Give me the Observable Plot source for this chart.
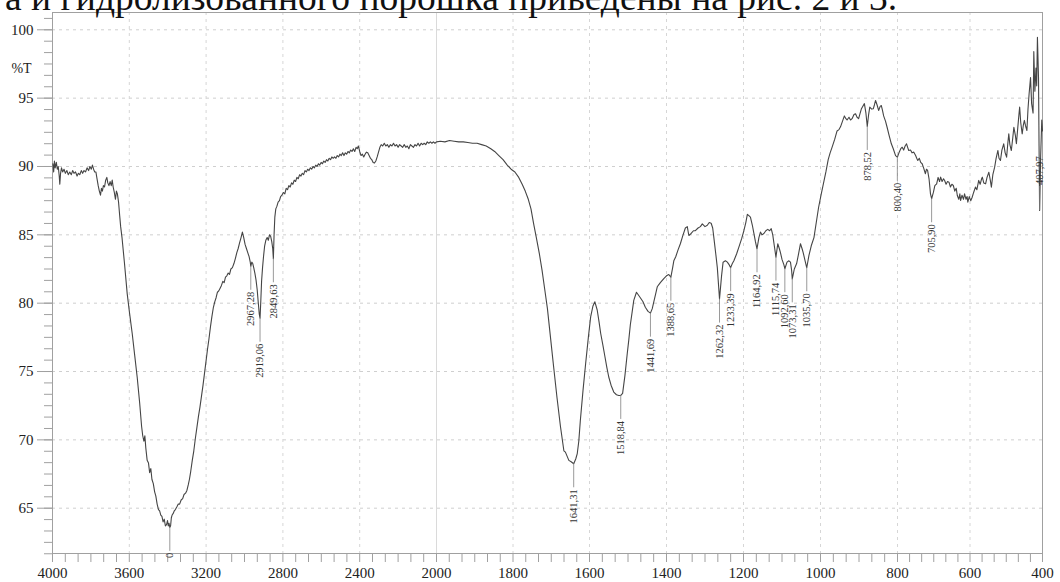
<!DOCTYPE html>
<html><head><meta charset="utf-8">
<script src="https://cdn.jsdelivr.net/npm/d3@7"></script>
<script src="https://cdn.jsdelivr.net/npm/@observablehq/plot@0.6"></script>
<style>
html,body{margin:0;padding:0;background:#fff;}
#wrap{position:relative;width:1060px;height:582px;overflow:hidden;background:#fff;}
#head{position:absolute;left:0;top:0;pointer-events:none;}
</style></head><body>
<div id="wrap"><div id="chart"></div>
<svg id="head" width="1060" height="30"><text x="5" y="10" font-family="'Liberation Serif', 'Times New Roman', serif" font-size="37.5" fill="#111">а и гидролизованного порошка приведены на рис. 2 и 3.</text></svg>
</div>
<script>
// ---- data ----
const xTickLabels = [4000, 3600, 3200, 2800, 2400, 2000, 1800, 1600, 1400, 1200, 1000, 800, 600, 400];
const yTickLabels = [100, 95, 90, 85, 80, 75, 70, 65];
const yAxisTitle = "%T";

const peakWn = [3389, 2967.28, 2919.06, 2849.63, 1641.31, 1518.84, 1441.69, 1388.65, 1262.32, 1233.39, 1164.92, 1115.74, 1092.60, 1073.31, 1035.70, 878.52, 800.40, 705.90, 407.97];
const peakT = [63.6, 82.7, 78.9, 83.25, 68.25, 73.25, 79.27, 81.9, 80.3, 82.6, 83.98, 83.37, 82.52, 81.78, 82.59, 92.93, 90.68, 87.64, 86.78];
const peakLabels = ["0", "2967,28", "2919,06", "2849,63", "1641,31", "1518,84", "1441,69", "1388,65", "1262,32", "1233,39", "1164,92", "1115,74", "1092,60", "1073,31", "1035,70", "878,52", "800,40", "705,90", "407,97"];
const labelsAbove = ["407,97"];

// [wavenumber cm-1, %T]
const spectrumPoints = [
[3998,90.2],[3994,89.6],[3990,90.4],[3986,89.9],[3980,90.3],[3975,89.8],[3970,90.0],[3965,89.3],[3962,88.7],[3958,89.5],[3953,89.9],[3947,89.6],[3940,89.8],[3933,89.5],[3925,89.7],[3918,89.4],[3910,89.6],[3902,89.4],[3895,89.7],[3888,89.5],[3880,89.6],[3872,89.3],[3865,89.5],[3858,89.4],[3850,89.7],[3843,89.5],[3836,89.7],[3828,89.6],[3820,89.9],[3812,89.7],[3805,90.0],[3798,89.8],[3792,90.1],[3786,89.8],[3780,89.6],[3774,89.6],[3768,89.1],[3762,88.6],[3756,88.2],[3750,87.9],[3745,88.4],[3740,88.2],[3735,88.6],[3729,88.5],[3723,89.0],[3717,89.2],[3712,88.8],[3706,88.6],[3700,88.9],[3694,88.6],[3689,89.0],[3684,88.5],[3678,88.1],[3672,87.6],[3667,88.2],[3662,88.0],[3656,87.4],[3650,86.4],[3645,85.6],[3638,84.8],
[3625,82.9],[3611,80.7],[3598,79.2],[3585,77.8],[3572,76.2],[3559,74.6],[3546,72.7],[3536,71.0],[3530,70.3],[3524,69.9],[3519,70.3],[3514,69.4],[3507,68.5],[3500,68.3],[3494,67.6],[3488,67.9],[3482,67.1],[3475,66.8],[3468,66.2],[3462,65.9],[3455,65.3],[3448,64.9],[3442,64.8],[3436,64.5],[3430,64.4],[3424,64.0],[3418,64.2],[3412,63.7],[3406,63.8],[3401,64.1],[3397,63.7],[3393,63.9],[3389,63.6],[3385,63.7],[3381,64.3],[3377,64.5],[3372,64.6],[3366,64.8],[3360,64.9],[3352,65.1],[3345,65.3],[3338,65.3],[3330,65.6],[3322,65.7],[3315,66.0],[3307,66.1],[3300,66.3],[3293,66.7],[3287,67.1],[3280,67.7],[3272,68.5],[3264,69.2],[3256,70.1],[3248,70.9],[3240,71.7],[3232,72.4],[3224,73.2],[3216,74.0],[3208,74.9],[3200,75.8],[3192,76.7],[3185,77.4],[3177,78.3],[3170,79.0],[3162,79.7],[3155,80.1],[3148,80.4],[3141,80.8],[3134,80.9],[3127,81.1],[3120,81.3],[3113,81.6],[3106,81.5],[3099,81.9],[3092,82.0],[3085,82.2],[3078,82.1],[3071,82.5],[3063,82.6],[3055,82.9],[3047,83.3],[3040,83.7],[3033,84.0],[3026,84.4],[3018,84.8],[3011,85.2],[3004,84.8],[2997,84.3],[2990,84.0],[2983,83.7],[2976,83.4],[2970,83.0],[2967.28,82.7],[2962,83.0],[2957,82.9],[2952,82.6],[2946,82.2],[2940,81.7],[2934,81.0],[2928,80.0],[2923,79.2],[2919.06,78.9],[2915,80.2],[2911,81.6],[2906,82.6],[2901,83.4],[2895,84.2],[2889,84.6],[2882,84.8],[2876,84.6],[2870,85.0],[2864,84.9],[2858,84.5],[2853,84.0],[2849.63,83.25],[2846,85.0],[2842,86.3],[2837,86.9],[2831,87.1],[2825,87.4],[2818,87.5],[2812,87.8],[2805,87.9],
[2798,88.1],[2790,88.0],[2783,88.4],[2776,88.3],[2769,88.6],[2762,88.5],[2755,88.8],[2748,88.7],[2741,89.0],[2734,88.9],[2727,89.2],[2720,89.1],[2713,89.4],[2706,89.3],[2699,89.5],[2692,89.4],[2685,89.7],[2678,89.6],[2671,89.8],[2664,89.7],[2657,89.9],[2650,89.8],[2643,90.0],[2636,89.9],[2629,90.1],[2622,90.0],[2615,90.2],[2608,90.1],[2601,90.3],[2594,90.2],[2587,90.4],[2580,90.3],[2573,90.5],[2566,90.4],[2559,90.6],[2552,90.5],[2545,90.7],[2538,90.6],[2531,90.7],[2524,90.6],[2517,90.8],[2510,90.7],[2503,90.9],[2496,90.8],[2489,91.0],[2482,90.8],[2475,91.0],[2468,90.9],[2461,91.1],[2454,91.0],[2447,91.2],[2440,91.1],[2433,91.3],[2426,91.1],[2419,91.4],[2413,91.3],[2407,91.5],[2400,91.1],[2393,90.8],[2386,90.9],[2379,90.7],[2372,90.9],[2365,91.05],[2358,91.0],[2351,90.8],[2344,90.6],[2337,90.5],[2330,90.3],[2323,90.25],[2316,90.4],[2309,90.7],[2302,91.05],[2295,91.4],[2288,91.6],[2280,91.5],[2272,91.7],[2264,91.5],[2256,91.6],[2248,91.4],[2240,91.6],[2232,91.5],[2224,91.7],[2216,91.5],[2208,91.6],[2200,91.4],[2192,91.6],[2184,91.5],[2176,91.4],[2168,91.6],[2160,91.4],[2152,91.5],[2144,91.3],[2136,91.6],[2128,91.5],[2120,91.4],[2112,91.6],[2104,91.5],[2096,91.7],[2088,91.5],[2080,91.7],[2072,91.6],[2064,91.7],[2056,91.6],[2048,91.8],[2040,91.7],[2032,91.8],[2024,91.7],[2016,91.8],[2008,91.7],[2000,91.8],
[1990,91.85],[1978,91.8],[1966,91.9],[1954,91.85],[1942,91.8],[1930,91.8],[1918,91.75],[1906,91.7],[1894,91.7],[1882,91.6],[1870,91.5],[1858,91.3],[1848,91.1],[1837,90.8],[1826,90.5],[1815,90.1],[1805,89.8],[1795,89.6],[1785,89.2],[1776,88.7],[1768,88.2],[1760,87.6],[1753,86.9],[1746,85.8],[1739,84.8],[1731,83.6],[1724,82.4],[1717,81.0],[1710,79.6],[1702,77.5],[1694,75.4],[1685,73.1],[1676,71.0],[1667,69.2],[1663,69.1],[1654,68.5],[1648,68.4],[1641.31,68.25],[1636,68.6],[1632,69.0],[1628,69.9],[1624,71.4],[1617,73.6],[1610,75.6],[1603,77.5],[1597,79.0],[1591,79.8],[1586,80.1],
[1580,79.5],[1575,78.6],[1571,77.8],[1565,76.9],[1560,76.1],[1555,75.3],[1550,74.6],[1544,74.0],[1537,73.5],[1530,73.3],[1524,73.25],[1518.84,73.25],[1514,73.4],[1508,74.7],[1502,76.3],[1498,77.3],[1494,78.4],[1489,79.4],[1485,80.2],[1478,80.8],[1473,80.6],[1468,80.4],[1461,80.1],[1455,79.7],[1448,79.4],[1441.69,79.27],[1437,79.6],[1433,80.1],[1428,80.7],[1424,81.2],[1416,81.5],[1407,81.8],[1400,82.0],[1394,82.1],[1388.65,81.9],[1384,82.6],[1381,83.1],[1376,83.4],[1370,83.9],[1364,84.35],[1358,84.9],[1351,85.5],[1346,85.6],[1342,84.95],[1336,85.1],[1330,85.3],[1325,85.3],[1318,85.5],[1312,85.6],[1307,85.8],[1300,85.6],[1294,85.7],[1289,85.9],[1284,85.85],[1280,85.5],[1277,84.8],[1272,83.6],[1268,82.6],[1262.32,80.3],[1257,82.0],[1253,83.0],[1247,83.1],[1242,83.0],[1237,82.8],[1233.39,82.6],[1229,82.9],[1225,83.1],[1218,83.6],[1212,84.1],[1205,84.7],[1199,85.3],[1194,85.9],[1190,86.5],[1186,86.4],[1182,86.3],[1177,85.7],[1173,85.1],[1169,84.5],[1164.92,83.98],[1160,84.8],[1156,85.2],[1152,85.0],[1147,85.1],[1142,85.3],[1137,85.4],[1132,85.3],[1128,85.45],[1124,85.0],[1120,84.2],[1115.74,83.37],[1111,84.35],[1107,84.0],[1104,83.7],[1100,83.2],[1095,82.8],[1092.60,82.52],[1087,83.0],[1082,83.1],[1078,83.0],[1075,82.4],[1073.31,81.78],[1068,82.5],[1062,82.9],[1057,83.6],[1052,84.35],[1048,84.0],[1045,83.7],[1040,83.1],[1035.70,82.59],[1030,83.5],[1024,84.2],[1017,84.8],[1011,85.9],[1005,87.0],[998,88.0],[992,88.8],[986,89.6],[980,90.5],[975,91.0],[970,91.4],[963,92.0],[957,92.6],[952,92.7],[948,92.9],[943,93.3],[938,93.7],[934,93.5],[931,93.4],[926,93.6],[922,93.4],[918,93.5],[913,93.8],[909,93.86],[905,93.6],[901,93.5],[897,93.9],[894,94.2],[890,94.4],[886,94.6],[882,93.9],[878.52,92.93],[875,93.8],[872,94.34],[867,94.2],[863,94.22],[860,94.5],[857,94.83],[853,94.5],[849,94.1],[845,94.4],[842,94.46],[839,94.1],[836,93.7],[831,93.3],[827,92.87],[822,92.3],[816,91.66],[811,91.3],[805,90.8],[800.40,90.68],[796,91.0],[791,91.3],[787,91.41],[783,91.2],[779,91.5],[775,91.66],[772,91.4],[769,91.17],[764,91.2],[760,91.0],[755,91.05],[750,90.8],[747,90.6],[744,90.44],[740,90.6],[736,90.3],[732,90.2],[728,89.9],[723,89.47],[720,89.8],[717,89.71],[713,89.1],[709,88.0],[705.90,87.64],[701,88.1],[697,88.6],[692,88.73],[688,89.2],[684,88.9],[681,89.22],[677,88.9],[673,89.1],[670,88.98],[666,88.7],[662,88.9],[658,88.85],[654,88.5],[650,88.7],[646,88.61],[642,88.2],[638,88.4],[635,87.88],[631,87.6],[628,88.0],[626,87.51],[622,87.9],[618,87.6],[615,88.0],[611,87.6],[608,87.8],[606,87.39],[602,87.8],[598,87.5],[594,87.75],[590,88.1],[585,88.49],[581,88.3],[576,88.98],[572,88.7],[568,89.1],[566,89.22],[562,88.8],[557,88.73],[553,89.2],[548,89.58],[544,89.0],[541,88.49],[537,89.4],[532,89.95],[528,90.6],[523,91.17],[520,90.6],[516,90.44],[512,91.2],[507,91.66],[503,91.0],[499,90.68],[496,91.6],[493,92.39],[490,91.6],[486,91.17],[482,92.1],[479,92.87],[475,92.3],[472,91.66],[468,92.9],[465,93.8],[463,94.34],[460,93.2],[456,92.39],[453,93.0],[450,93.37],[447,93.0],[443,92.63],[440,94.2],[437,95.3],[433,96.5],[430,94.6],[426,93.9],[424,98.4],[421,95.5],[418,97.2],[416,95.9],[414,99.46],[411,96.5],[409.5,91.5],[407.97,86.78],[405,90.8],[402,93.4],[400,92.6]
];

// ---- build ----
const spectrum = spectrumPoints.map(([wn, t]) => ({wn, t}));
const peaks = peakWn.map((wn, i) => ({wn, t: peakT[i], label: peakLabels[i], above: labelsAbove.includes(peakLabels[i])}));

const yPerPx = (101.266 - 61.686) / 541;
const leader = 24 * yPerPx;
const gap = 1.5 * yPerPx;

// minor ticks: six subdivisions between labelled ticks
const xAllTicks = [];
for (let i = 0; i < xTickLabels.length - 1; i++) {
  const a = xTickLabels[i], b = xTickLabels[i + 1];
  for (let j = 0; j < 6; j++) xAllTicks.push(a + (b - a) * j / 6);
}
xAllTicks.push(xTickLabels[xTickLabels.length - 1]);
const yMinor = [];
for (let v = 65 - 5 / 6 * 4; v <= 101; v += 5 / 6) yMinor.push(v);

const gridX = xTickLabels.filter(d => d !== 4000 && d !== 400 && d !== 2000);

const chart = Plot.plot({
  width: 1060, height: 582,
  marginLeft: 52, marginRight: 18, marginTop: 12, marginBottom: 29,
  style: {fontFamily: "'Liberation Serif', 'Times New Roman', serif", background: "#fff", color: "#222"},
  x: {type: "linear", domain: [4000, 2000, 1600, 800, 400], range: [52, 436, 589, 897, 1042], label: null},
  y: {domain: [61.686, 101.266], range: [553, 12], label: null},
  marks: [
    Plot.ruleY(yTickLabels, {stroke: "#cfcfcf", strokeDasharray: "3,4"}),
    Plot.ruleX(gridX, {stroke: "#d6d6d6", strokeDasharray: "3,4"}),
    Plot.ruleX([2000], {stroke: "#dadada"}),
    Plot.frame({stroke: "#a0a0a0"}),
    Plot.axisX(xAllTicks, {tickSize: 9, stroke: "#a0a0a0", fill: "#222", fontSize: 15, tickPadding: 5, label: null,
      tickFormat: d => xTickLabels.includes(d) ? String(d) : ""}),
    Plot.axisY(yMinor, {tickSize: 8, stroke: "#a0a0a0", tickFormat: () => "", label: null}),
    Plot.axisY(yTickLabels, {tickSize: 15, stroke: "#a0a0a0", fill: "#222", fontSize: 15, tickPadding: 4, label: null}),
    Plot.text([yAxisTitle], {text: d => d, frameAnchor: "top-left", dx: -31, dy: 51, fontSize: 14, fill: "#222", textAnchor: "middle"}),
    Plot.line(spectrum, {x: "wn", y: "t", stroke: "#454545", strokeWidth: 1.1}),
    Plot.ruleX(peaks, {x: "wn", y1: "t", y2: d => d.above ? d.t + leader : d.t - leader, stroke: "#808080", strokeWidth: 0.8}),
    Plot.text(peaks.filter(d => !d.above), {x: "wn", y: d => d.t - leader - gap, text: "label", rotate: -90, textAnchor: "end", fontSize: 10.5, fill: "#333"}),
    Plot.text(peaks.filter(d => d.above), {x: "wn", y: d => d.t + leader + gap, text: "label", rotate: -90, textAnchor: "start", fontSize: 10.5, fill: "#333"})
  ]
});
document.getElementById("chart").appendChild(chart);
</script>
</body></html>
